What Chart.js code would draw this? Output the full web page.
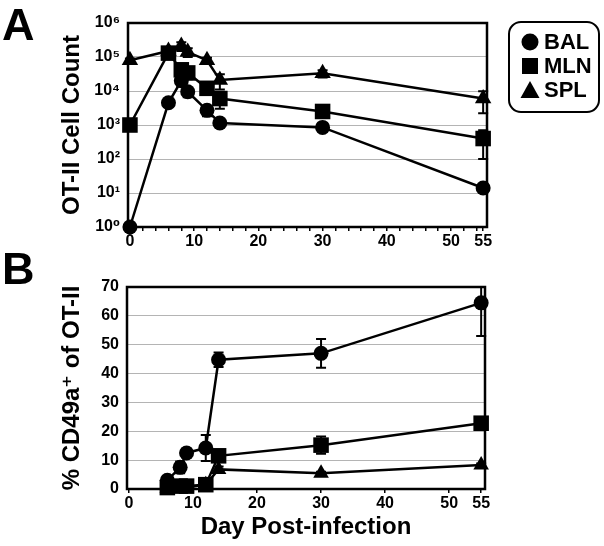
<!DOCTYPE html>
<html><head><meta charset="utf-8">
<script src="https://cdn.jsdelivr.net/npm/chart.js@4.4.0/dist/chart.umd.min.js"></script>
<style>
html,body{margin:0;padding:0;background:#fff;}
#wrap{position:relative;width:604px;height:546px;overflow:hidden;font-family:"Liberation Sans",Arial,sans-serif;}
#cA{position:absolute;left:0;top:0;}
#cB{position:absolute;left:0;top:250px;}
.lbl{position:absolute;font-weight:bold;font-size:45px;line-height:1;color:#000;}
</style></head><body>
<div id="wrap">
<canvas id="cA" width="604" height="250"></canvas>
<canvas id="cB" width="604" height="296"></canvas>
<div class="lbl" style="left:2px;top:2px">A</div>
<div class="lbl" style="left:2px;top:246px">B</div>
</div>
<script>
// ---- data ----
const days = [0, 6, 8, 9, 12, 14, 30, 55];
const balCount = [1, 4500, 20000, 9500, 2700, 1150, 850, 14];
const balCountErr = [0, 800, 6000, 3000, 900, 150, 120, 2];
const mlnCount = [1000, 130000, 42000, 34000, 12000, 6000, 2500, 400];
const mlnCountErr = [0, 20000, 20000, 12000, 4000, 3000, 400, 300];
const splCount = [80000, 150000, 210000, 140000, 80000, 21000, 33000, 6000];
const splCountErr = [10000, 20000, 60000, 40000, 15000, 10000, 8000, 3800];

const daysB = [6, 8, 9, 12, 14, 30, 55];
const balPct = [3, 7.5, 12.5, 14.2, 44.8, 47, 64.5];
const balPctErr = [1, 2, 1.5, 4.5, 2.5, 5, 11.5];
const mlnPct = [0.5, 1, 1, 1.5, 11.5, 15.2, 22.8];
const mlnPctErr = [0.5, 0.5, 0.5, 0.5, 2, 3, 1];
const splPct = [0.3, 0.5, 0.5, 1.5, 6.8, 5.5, 8.3];
const splPctErr = [0.3, 0.3, 0.3, 0.5, 1, 0.5, 0.5];

const seriesNames = ['BAL', 'MLN', 'SPL'];
const xTickLabels = [0, 10, 20, 30, 40, 50, 55];
const yTicksA = [1, 10, 100, 1000, 10000, 100000, 1000000];
const yTickLabelsA = ['10⁰', '10¹', '10²', '10³', '10⁴', '10⁵', '10⁶'];
const yTicksB = [0, 10, 20, 30, 40, 50, 60, 70];

// ---- helpers ----
const FONT = '"Liberation Sans", Arial, "DejaVu Sans", sans-serif';
const pts = (xs, ys) => xs.map((x, i) => ({x: x, y: ys[i]}));

const errorBars = {
  id: 'errorBars',
  beforeDatasetsDraw(chart) {
    const {ctx, chartArea: ca, scales: {x, y}} = chart;
    ctx.save();
    ctx.beginPath();
    ctx.rect(ca.left - 10, ca.top - 1, ca.right - ca.left + 20, ca.bottom - ca.top + 2);
    ctx.clip();
    ctx.strokeStyle = '#000';
    ctx.lineWidth = 2;
    chart.data.datasets.forEach(ds => {
      if (!ds.errors) return;
      ds.data.forEach((p, i) => {
        const e = ds.errors[i];
        if (!e) return;
        const px = x.getPixelForValue(p.x);
        let lo = p.y - e;
        if (y.type === 'logarithmic' && lo <= 0) lo = p.y / 10;
        const y1 = y.getPixelForValue(p.y + e), y2 = y.getPixelForValue(lo);
        ctx.beginPath();
        ctx.moveTo(px, y1); ctx.lineTo(px, y2);
        ctx.moveTo(px - 5, y1); ctx.lineTo(px + 5, y1);
        ctx.moveTo(px - 5, y2); ctx.lineTo(px + 5, y2);
        ctx.stroke();
      });
    });
    ctx.restore();
  }
};

const frame = {
  id: 'frame',
  beforeDatasetsDraw(chart) {
    const {ctx, chartArea: ca} = chart;
    ctx.save();
    ctx.strokeStyle = '#000';
    ctx.lineWidth = 2.5;
    ctx.strokeRect(ca.left, ca.top, ca.right - ca.left, ca.bottom - ca.top);
    ctx.restore();
  }
};

const legendBox = {
  id: 'legendBox',
  afterDraw(chart) {
    const ctx = chart.ctx;
    ctx.save();
    const x0 = 509, y0 = 22, w = 90, h = 90, r = 12;
    ctx.lineWidth = 2;
    ctx.strokeStyle = '#000';
    ctx.beginPath();
    ctx.moveTo(x0 + r, y0);
    ctx.arcTo(x0 + w, y0, x0 + w, y0 + h, r);
    ctx.arcTo(x0 + w, y0 + h, x0, y0 + h, r);
    ctx.arcTo(x0, y0 + h, x0, y0, r);
    ctx.arcTo(x0, y0, x0 + w, y0, r);
    ctx.closePath();
    ctx.stroke();
    ctx.fillStyle = '#000';
    ctx.font = 'bold 22px ' + FONT;
    ctx.textBaseline = 'middle';
    ctx.textAlign = 'left';
    const rows = [42, 66, 90];
    const mx = 530;
    ctx.beginPath(); ctx.arc(mx, rows[0], 8.5, 0, Math.PI * 2); ctx.fill();
    ctx.fillRect(mx - 8, rows[1] - 8, 16, 16);
    ctx.beginPath();
    ctx.moveTo(mx, rows[2] - 9); ctx.lineTo(mx + 9.5, rows[2] + 8); ctx.lineTo(mx - 9.5, rows[2] + 8);
    ctx.closePath(); ctx.fill();
    seriesNames.forEach((n, i) => ctx.fillText(n, 544, rows[i] + 1));
    ctx.restore();
  }
};

function xScale(height, minor) {
  return {
    type: 'linear', min: -0.3, max: 55.6,
    afterBuildTicks(s) {
      const vals = minor ? Array.from({length: 28}, (_, i) => i * 2) : xTickLabels;
      const all = Array.from(new Set(vals.concat(xTickLabels))).sort((a, b) => a - b);
      s.ticks = all.map(v => ({value: v}));
    },
    afterFit(s) { s.height = height; },
    border: {display: false},
    grid: {drawOnChartArea: false, drawTicks: true, tickLength: 4, color: '#000', lineWidth: 1.5},
    ticks: {
      autoSkip: false, maxRotation: 0, padding: 1, color: '#000',
      font: {family: FONT, size: 16, weight: 'bold'},
      callback: v => xTickLabels.includes(v) ? String(v) : ''
    }
  };
}

const common = {
  responsive: false,
  animation: false,
  plugins: {legend: {display: false}, tooltip: {enabled: false}},
  elements: {line: {borderWidth: 2.5, borderColor: '#000', tension: 0}}
};

function ds(label, data, errs, style, radius, order) {
  return {
    label, data, errors: errs, order,
    borderColor: '#000', backgroundColor: '#000', borderWidth: 2.5,
    pointStyle: style, pointRadius: radius, pointBackgroundColor: '#000',
    pointBorderColor: '#000', pointBorderWidth: 0, clip: false, showLine: true
  };
}

new Chart(document.getElementById('cA'), {
  type: 'scatter',
  data: {datasets: [
    ds(seriesNames[0], pts(days, balCount), balCountErr, 'circle', 7.5, 3),
    ds(seriesNames[1], pts(days, mlnCount), mlnCountErr, 'rect', 11, 2),
    ds(seriesNames[2], pts(days, splCount), splCountErr, 'triangle', 9.5, 1)
  ]},
  options: Object.assign({}, common, {
    layout: {padding: {left: 0, right: 117, top: 23, bottom: 0}},
    scales: {
      x: xScale(23, true),
      y: {
        type: 'logarithmic', min: 1, max: 1000000,
        afterBuildTicks(s) { s.ticks = yTicksA.map(v => ({value: v})); },
        afterFit(s) { s.width = 128; },
        border: {display: false},
        grid: {color: '#b4b4b4', lineWidth: 1, drawTicks: false},
        ticks: {
          padding: 8, color: '#000', font: {family: FONT, size: 16, weight: 'bold'},
          callback: v => { const i = yTicksA.indexOf(v); return i >= 0 ? yTickLabelsA[i] : ''; }
        },
        title: {display: true, text: 'OT-II Cell Count', color: '#000',
          font: {family: FONT, size: 24, weight: 'bold'}, padding: {top: 58, bottom: 0}}
      }
    }
  }),
  plugins: [frame, errorBars, legendBox]
});

new Chart(document.getElementById('cB'), {
  type: 'scatter',
  data: {datasets: [
    ds(seriesNames[0], pts(daysB, balPct), balPctErr, 'circle', 7.5, 1),
    ds(seriesNames[1], pts(daysB, mlnPct), mlnPctErr, 'rect', 11, 2),
    ds(seriesNames[2], pts(daysB, splPct), splPctErr, 'triangle', 9, 3)
  ]},
  options: Object.assign({}, common, {
    layout: {padding: {left: 0, right: 119, top: 37, bottom: 0}},
    scales: {
      x: Object.assign(xScale(57, false), {
        title: {display: true, text: 'Day Post-infection', color: '#000',
          font: {family: FONT, size: 24, weight: 'bold'}, padding: {top: 0, bottom: 4}}
      }),
      y: {
        type: 'linear', min: 0, max: 70,
        afterBuildTicks(s) { s.ticks = yTicksB.map(v => ({value: v})); },
        afterFit(s) { s.width = 127; },
        border: {display: false},
        grid: {color: '#b4b4b4', lineWidth: 1, drawTicks: false},
        ticks: {padding: 8, color: '#000', font: {family: FONT, size: 16, weight: 'bold'}},
        title: {display: true, text: '% CD49a⁺ of OT-II', color: '#000',
          font: {family: FONT, size: 24, weight: 'bold'}, padding: {top: 58, bottom: 0}}
      }
    }
  }),
  plugins: [frame, errorBars]
});
</script>
</body></html>
